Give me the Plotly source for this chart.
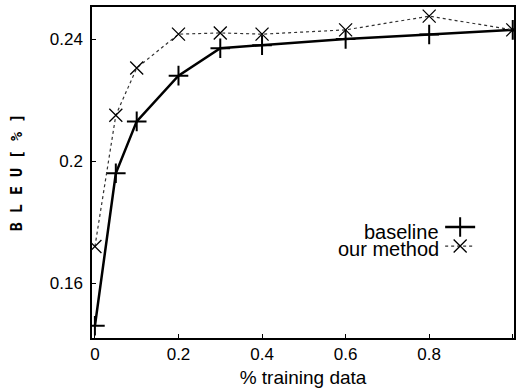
import plotly.graph_objects as go

x_vals = [0.0, 0.05, 0.1, 0.2, 0.3, 0.4, 0.6, 0.8, 1.0]
baseline = [0.146, 0.196, 0.213, 0.228, 0.237, 0.238, 0.240, 0.2415, 0.243]
our_method = [0.172, 0.215, 0.2305, 0.2416, 0.242, 0.2416, 0.243, 0.2475, 0.243]
x_ticks = [0, 0.2, 0.4, 0.6, 0.8, 1.0]
x_tick_labels = ["0", "0.2", "0.4", "0.6", "0.8", "1"]
y_ticks = [0.16, 0.2, 0.24]
y_tick_labels = ["0.16", "0.2", "0.24"]
series_names = ["baseline", "our method"]

FONT = "Liberation Sans, Arial, sans-serif"

fig = go.Figure()
fig.add_trace(go.Scatter(
    x=x_vals, y=baseline, mode="lines+markers", name=" ",
    line=dict(color="black", width=2.5),
    marker=dict(symbol="cross-thin", size=14, line=dict(color="black", width=2)),
))
fig.add_trace(go.Scatter(
    x=x_vals, y=our_method, mode="lines+markers", name="  ",
    line=dict(color="#333333", width=1.2, dash="dot"),
    marker=dict(symbol="x-thin", size=13, line=dict(color="black", width=1.3)),
))

fig.update_layout(
    width=516, height=392,
    margin=dict(l=92, r=2, t=7, b=54),
    paper_bgcolor="white", plot_bgcolor="white",
    font=dict(family=FONT, size=17, color="black"),
    showlegend=True,
    legend=dict(x=0.825, y=0.379, xanchor="left", yanchor="top",
                bgcolor="rgba(0,0,0,0)", font=dict(size=2),
                tracegroupgap=0, itemwidth=30),
    xaxis=dict(range=[-0.007, 1.003], tickvals=x_ticks, ticktext=x_tick_labels,
               ticks="inside", ticklen=4, tickcolor="black", automargin=False,
               showline=True, linecolor="black", linewidth=1.5, mirror=True,
               showgrid=False, zeroline=False,
               title=dict(text="% training data", font=dict(size=19), standoff=8)),
    yaxis=dict(range=[0.142, 0.2505], tickvals=y_ticks, ticktext=y_tick_labels,
               ticks="outside", ticklen=4, tickcolor="rgba(0,0,0,0)", automargin=False,
               minor=dict(tickvals=y_ticks, ticks="inside", ticklen=4, tickcolor="black"),
               showline=True, linecolor="black", linewidth=1.5, mirror=True,
               showgrid=False, zeroline=False,
               title=dict(text="B L E U [ % ]",
                          font=dict(size=15, family="DejaVu Sans Mono", weight="bold"),
                          standoff=24)),
    annotations=[
        dict(text=series_names[0], xref="paper", yref="paper", x=0.827, y=0.32,
             xanchor="right", yanchor="middle", showarrow=False, font=dict(size=20)),
        dict(text=series_names[1], xref="paper", yref="paper", x=0.827, y=0.27,
             xanchor="right", yanchor="middle", showarrow=False, font=dict(size=20)),
    ],
)

fig.write_html("out.html", config={"displayModeBar": False},
               post_script="document.body.style.margin='0';")
